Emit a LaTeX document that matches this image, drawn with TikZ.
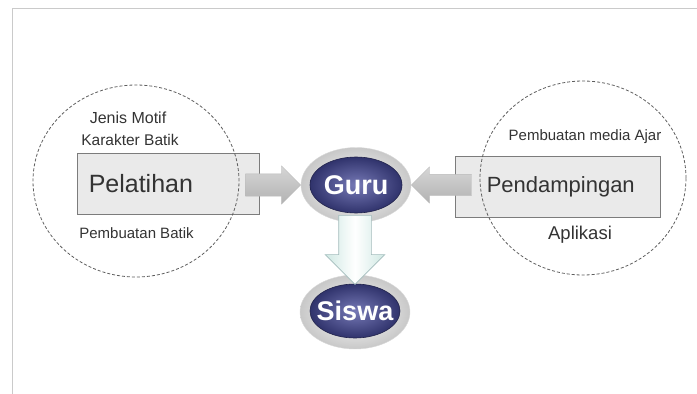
\documentclass[tikz,border=0pt]{standalone}
\usepackage{fontspec}
\setmainfont{Liberation Sans}
\setsansfont{Liberation Sans}
\usetikzlibrary{shapes.geometric,shapes.arrows,calc}

\definecolor{framegray}{HTML}{CACACA}
\definecolor{boxfill}{HTML}{EAEAEA}
\definecolor{boxline}{HTML}{7C7C7C}
\definecolor{textgray}{HTML}{333333}
\definecolor{dashgray}{HTML}{5E5E5E}
\definecolor{navyin}{HTML}{7679B6}
\definecolor{navyout}{HTML}{30336C}
\definecolor{silver}{HTML}{C8C8C8}
\definecolor{arrowlight}{HTML}{D6D6D6}
\definecolor{arrowdark}{HTML}{B2B2B2}
\definecolor{mintedge}{HTML}{CFE8E3}
\definecolor{mintline}{HTML}{A3BCBC}

\begin{document}
\begin{tikzpicture}[
    x=1pt, y=-1pt,
    font=\sffamily,
    labelbox/.style={draw=boxline, fill=boxfill, line width=0.9pt, inner sep=0pt},
    topic/.style={ellipse, draw=dashgray, dash pattern=on 3pt off 2pt,
        line width=0.8pt, inner sep=0pt},
    ring/.style={ellipse, inner sep=0pt, shading=radial,
        inner color=white, outer color=silver, draw=silver!70},
    core/.style={ellipse, inner sep=0pt, shading=radial,
        inner color=navyin, outer color=navyout, draw=navyout!70!black, line width=0.6pt},
    corelabel/.style={text=white, font=\fontsize{27}{30}\selectfont\bfseries},
    note/.style={text=textgray, inner sep=0pt},
    grayarrow/.style={single arrow, single arrow tip angle=90,
        top color=arrowlight, bottom color=arrowdark, draw=arrowdark!90, line width=0.3pt},
    downarrow/.style={single arrow, single arrow tip angle=90,
        shape border rotate=270, left color=mintedge, right color=mintedge,
        middle color=white, draw=mintline, line width=0.6pt}
]
\useasboundingbox (0,0) rectangle (697,394);

% === Frame ===
\draw[framegray, line width=1.2pt] (12.7,394) -- (12.7,8.5) -- (697,8.5);

% === Left: Pelatihan ===
\node[labelbox, minimum width=182pt, minimum height=61pt] (pelbox) at (168,183.5) {};
\node[note, anchor=west, font=\fontsize{25}{28}\selectfont] (peltext)
    at ([xshift=12pt]pelbox.west) {Pelatihan};
\node[note, font=\fontsize{16}{18}\selectfont] (motif) at (128,118) {Jenis Motif};
\node[note, font=\fontsize{15.5}{18}\selectfont] (karakter) at (130,140) {Karakter Batik};
\node[note, font=\fontsize{15}{18}\selectfont] (pembatik) at (136.5,233) {Pembuatan Batik};
\node[topic, minimum width=206pt, minimum height=192pt] (lefttopic) at (136,181) {};

% === Right: Pendampingan ===
\node[labelbox, minimum width=205pt, minimum height=61pt] (pdbox) at (557.5,186.5) {};
\node[note, anchor=west, font=\fontsize{22}{26}\selectfont] (pdtext)
    at ([xshift=32pt]pdbox.west) {Pendampingan};
\node[note, font=\fontsize{15}{18}\selectfont] (media) at (585,137) {Pembuatan media Ajar};
\node[note, font=\fontsize{18.5}{22}\selectfont] (aplikasi) at (580,235) {Aplikasi};
\node[topic, minimum width=206pt, minimum height=194pt] (righttopic) at (583,178) {};

% === Guru and Siswa ===
\node[ring, minimum width=110pt, minimum height=75pt] (gururing) at (356,185) {};
\node[core, minimum width=92pt, minimum height=56pt] (guru) at (356,185) {};
\node[corelabel] (gurutext) at (guru) {Guru};

\node[ring, minimum width=110pt, minimum height=74pt] (siswaring) at (355,312) {};
\node[core, minimum width=90pt, minimum height=54pt] (siswa) at (355,311) {};
\node[corelabel] (siswatext) at (siswa) {Siswa};

% === Arrows ===
\node[grayarrow, inner sep=11pt, minimum height=55pt, single arrow head extend=8pt,
    anchor=tip] (pelarrow) at (gururing.west) {};
\node[grayarrow, inner sep=10.5pt, minimum height=60pt, single arrow head extend=7.5pt,
    shape border rotate=180, anchor=tip] (pdarrow) at (gururing.east) {};
\node[downarrow, inner sep=16pt, minimum height=69pt, single arrow head extend=13.5pt,
    anchor=tip] (siswaarrow) at ($(siswaring.north)+(0,10)$) {};

\end{tikzpicture}
\end{document}
